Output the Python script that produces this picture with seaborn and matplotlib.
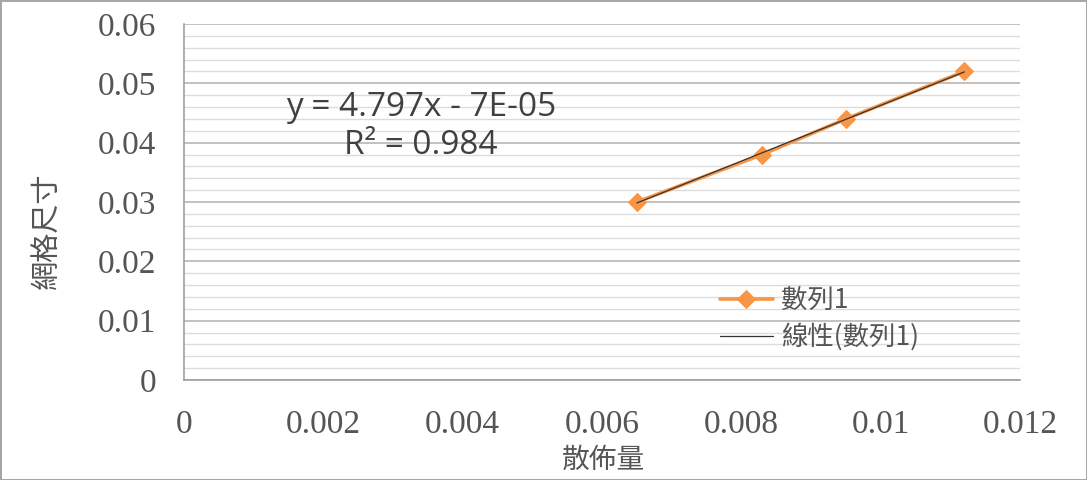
import numpy as np
import pandas as pd
import matplotlib
matplotlib.use("Agg")
import matplotlib.pyplot as plt
from matplotlib.ticker import MultipleLocator, FuncFormatter
import seaborn as sns

# values
spread = [0.0065, 0.0083, 0.0095, 0.0112]      # 散佈量
grid_size = [0.030, 0.038, 0.044, 0.052]       # 網格尺寸
series_name = "數列1"
trend_name = "線性(數列1)"
equation_text = "y = 4.797x - 7E-05\nR² = 0.984"

df = pd.DataFrame({"spread": spread, "grid_size": grid_size})

sns.set_style("white")
cjk = ["Noto Sans CJK TC", "DejaVu Sans"]
plt.rcParams["font.family"] = cjk

fig = plt.figure(figsize=(10.87, 4.80), dpi=100)
fig.patch.set_edgecolor("#a6a6a6")
fig.patch.set_linewidth(2)
ax = fig.add_axes([0.1693, 0.2083, 0.7691, 0.7417])

orange = "#F79646"
sns.lineplot(data=df, x="spread", y="grid_size", ax=ax, color=orange, lw=2.6,
             marker="D", markersize=9, markeredgecolor=orange, label=series_name)
sns.regplot(data=df, x="spread", y="grid_size", ax=ax, scatter=False, ci=None,
            truncate=True, color="#333333", line_kws={"lw": 0.9})
trend_line = ax.get_lines()[-1]
trend_line.set_label(trend_name)

ax.set_xlim(0, 0.012)
ax.set_ylim(0, 0.06)
ax.xaxis.set_major_locator(MultipleLocator(0.002))
ax.yaxis.set_major_locator(MultipleLocator(0.01))
ax.yaxis.set_minor_locator(MultipleLocator(0.002))
fmt = FuncFormatter(lambda v, p: f"{v:g}")
ax.xaxis.set_major_formatter(fmt)
ax.yaxis.set_major_formatter(fmt)

ax.grid(axis="y", which="major", color="#b0b0b0", lw=1.1)
ax.grid(axis="y", which="minor", color="#dcdcdc", lw=1.0)
ax.grid(axis="x", visible=False)
ax.set_axisbelow(True)

for s in ["top", "right"]:
    ax.spines[s].set_visible(False)
for s in ["left", "bottom"]:
    ax.spines[s].set_color("#9a9a9a")
    ax.spines[s].set_linewidth(1.1)

ax.tick_params(axis="both", which="major", direction="out", length=8, width=1,
               color="#9a9a9a", labelcolor="#555555", labelsize=24)
ax.tick_params(axis="x", pad=13)
ax.tick_params(axis="y", pad=12)
ax.tick_params(axis="y", which="minor", length=0)
for lab in ax.get_xticklabels() + ax.get_yticklabels():
    lab.set_fontfamily(["Liberation Serif", "DejaVu Serif"])

ax.set_xlabel("散佈量", fontsize=20, color="#555555", va="top")
ax.set_ylabel("網格尺寸", fontsize=21, color="#555555")
ax.xaxis.set_label_coords(0.502, -0.183)
ax.yaxis.set_label_coords(-0.145, 0.42)

ax.text(0.00340, 0.0427, equation_text, ha="center", va="center",
        multialignment="center", fontsize=24, color="#404040",
        family=["Open Sans", "DejaVu Sans"], linespacing=1.2)

leg = ax.legend(loc="center left", bbox_to_anchor=(0.641, 0.172), frameon=False,
                fontsize=19, handlelength=2.0, labelspacing=0.35,
                handletextpad=0.3, borderpad=0, borderaxespad=0,
                labelcolor="#555555")

fig.savefig("out.png", dpi=100)
